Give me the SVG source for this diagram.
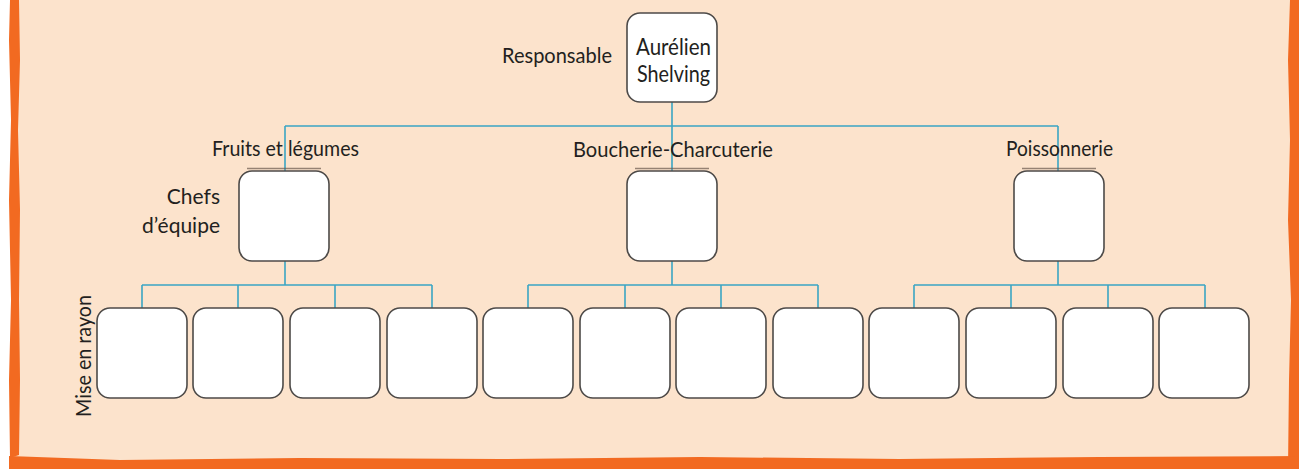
<svg xmlns="http://www.w3.org/2000/svg" width="1299" height="469" viewBox="0 0 1299 469">
<style>
.lbl{font-family:Lato,"Open Sans","Liberation Sans",sans-serif;font-size:21px;fill:#231f20}
.nm{font-family:Lato,"Open Sans","Liberation Sans",sans-serif;font-size:23px;fill:#231f20}
.box{fill:#ffffff;stroke:#4d4a48;stroke-width:1.6}
.conn{fill:none;stroke:#3aa5c4;stroke-width:1.6}
.sh{stroke:#6b5a4e;stroke-width:1.4;opacity:0.7}
</style>
<defs>
<rect id="b" width="90" height="90" rx="13" ry="13" class="box"/>
</defs>
<rect x="0" y="0" width="1299" height="469" fill="#ffffff"/>
<rect x="12" y="0" width="1282" height="462" fill="#fce3cc"/>
<path d="M10 0 L19 0 L20 60 L18 130 L20 210 L19 300 L20 380 L19 455 L10 458 L9 380 L11 300 L9 200 L11 120 L9 40 Z" fill="#f26a21"/>
<path d="M1290 0 L1299 0 L1299 469 L1288 469 L1289 380 L1291 300 L1288 220 L1290 140 L1288 60 Z" fill="#f26a21"/>
<path d="M9 469 L9 456 L120 460 L300 458 L500 459 L700 457 L900 459 L1100 457 L1299 456 L1299 469 Z" fill="#f26a21"/>

<g id="connectors">
<path class="conn" d="M672 102 V126 M285 126 H1058 M285 126 V171 M672 126 V171 M1058 126 V171"/>
<path class="conn" d="M285 261 V285 M142 285 H432 M142 285 V308 M238 285 V308 M335 285 V308 M432 285 V308"/>
<path class="conn" d="M672 261 V285 M528 285 H818 M528 285 V308 M625 285 V308 M721 285 V308 M818 285 V308"/>
<path class="conn" d="M1058 261 V285 M914 285 H1205 M914 285 V308 M1011 285 V308 M1108 285 V308 M1205 285 V308"/>
</g>

<g id="labels">
<text class="lbl" x="502" y="63" textLength="110" lengthAdjust="spacingAndGlyphs">Responsable</text>
<text class="lbl" x="212" y="156" textLength="147" lengthAdjust="spacingAndGlyphs">Fruits et légumes</text>
<text class="lbl" x="573" y="157" textLength="200" lengthAdjust="spacingAndGlyphs">Boucherie-Charcuterie</text>
<text class="lbl" x="1006" y="156" textLength="107" lengthAdjust="spacingAndGlyphs">Poissonnerie</text>
<text class="lbl" x="220" y="204" text-anchor="end">Chefs</text>
<text class="lbl" x="220" y="233" text-anchor="end">d’équipe</text>
<text class="lbl" transform="translate(91,417) rotate(-90)" textLength="122" lengthAdjust="spacingAndGlyphs">Mise en rayon</text>
</g>

<g id="node-responsable">
<rect x="627" y="13" width="90" height="89" rx="13" ry="13" class="box"/>
<text class="nm" x="636" y="55" textLength="75" lengthAdjust="spacingAndGlyphs">Aurélien</text>
<text class="nm" x="637" y="82" textLength="73" lengthAdjust="spacingAndGlyphs">Shelving</text>
</g>

<g id="node-chef-fruits"><line class="sh" x1="247" y1="168.5" x2="321" y2="168.5"/><use href="#b" x="239" y="171"/></g>
<g id="node-chef-boucherie"><line class="sh" x1="635" y1="168.5" x2="709" y2="168.5"/><use href="#b" x="627" y="171"/></g>
<g id="node-chef-poissonnerie"><line class="sh" x1="1022" y1="168.5" x2="1096" y2="168.5"/><use href="#b" x="1014" y="171"/></g>

<g id="node-rayon-1"><use href="#b" x="97" y="308"/></g>
<g id="node-rayon-2"><use href="#b" x="193" y="308"/></g>
<g id="node-rayon-3"><use href="#b" x="290" y="308"/></g>
<g id="node-rayon-4"><use href="#b" x="387" y="308"/></g>
<g id="node-rayon-5"><use href="#b" x="483" y="308"/></g>
<g id="node-rayon-6"><use href="#b" x="580" y="308"/></g>
<g id="node-rayon-7"><use href="#b" x="676" y="308"/></g>
<g id="node-rayon-8"><use href="#b" x="773" y="308"/></g>
<g id="node-rayon-9"><use href="#b" x="869" y="308"/></g>
<g id="node-rayon-10"><use href="#b" x="966" y="308"/></g>
<g id="node-rayon-11"><use href="#b" x="1063" y="308"/></g>
<g id="node-rayon-12"><use href="#b" x="1159" y="308"/></g>
</svg>
